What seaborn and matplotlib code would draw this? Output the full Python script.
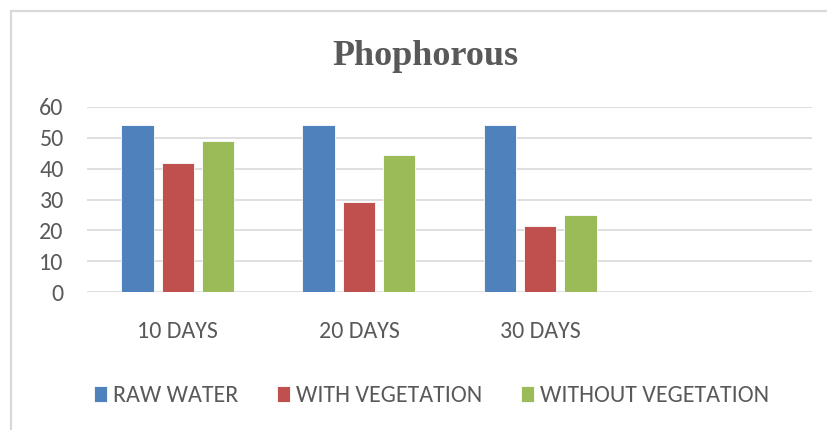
import matplotlib
matplotlib.use("Agg")
import matplotlib.pyplot as plt
from matplotlib.lines import Line2D
from matplotlib import font_manager
import seaborn as sns
import pandas as pd

categories = ["10 DAYS", "20 DAYS", "30 DAYS"]
series_names = ["RAW WATER", "WITH VEGETATION", "WITHOUT VEGETATION"]
raw_water = [54, 54, 54]
with_vegetation = [41.7, 29.2, 21.3]
without_vegetation = [49, 44.5, 24.9]
y_ticks = [0, 10, 20, 30, 40, 50, 60]
title = "Phophorous"

colors = ["#4F81BD", "#C0504D", "#9BBB59"]
text_color = "#595959"
grid_color = "#D9D9D9"

rows = []
for name, vals in zip(series_names, [raw_water, with_vegetation, without_vegetation]):
    for c, v in zip(categories, vals):
        rows.append({"Day": c, "Series": name, "Value": v})
df = pd.DataFrame(rows)

installed = {f.name for f in font_manager.fontManager.ttflist}
if "Carlito" in installed:
    fam, fsize = "Carlito", 17.3
else:
    fam, fsize = "Roboto Condensed", 18

sns.set_theme(style="white")
plt.rcParams["font.family"] = [fam, "DejaVu Sans"]

W, H = 828, 430
fig = plt.figure(figsize=(W / 100, H / 100), dpi=100)
ax = fig.add_axes([87.3 / W, 1 - 292.3 / H, (811.7 - 87.3) / W, (292.3 - 106.7) / H])

sns.barplot(data=df, x="Day", y="Value", hue="Series", order=categories,
            hue_order=series_names, palette=colors, width=0.668, gap=0.2,
            edgecolor="white", linewidth=0.6, saturation=1, ax=ax, legend=True)

ax.set_xlim(-0.5, 3.5)
ax.set_ylim(0, 60)
ax.set_yticks(y_ticks)
ax.set_xlabel("")
ax.set_ylabel("")
for s in ax.spines.values():
    s.set_visible(False)
ax.yaxis.grid(True, color=grid_color, linewidth=1.2)
ax.set_axisbelow(True)
ax.tick_params(axis="both", length=0, labelsize=fsize, labelcolor=text_color)
ax.tick_params(axis="y", pad=17)
ax.tick_params(axis="x", pad=21)

handles, labels = ax.get_legend_handles_labels()
ax.get_legend().remove()
fig.legend(handles, labels, loc="center", bbox_to_anchor=(431.5 / W, 1 - 396 / H),
           ncol=3, frameon=False, fontsize=fsize, labelcolor=text_color,
           handlelength=0.55, handleheight=0.65, handletextpad=0.25,
           columnspacing=1.6)

fig.text(425.5 / W, 1 - 65 / H, title, ha="center", va="baseline",
         fontsize=26, fontweight="bold", color=text_color,
         family=["Liberation Serif", "DejaVu Serif"])

fig.add_artist(Line2D([11 / W, 11 / W], [0, 1 - 11 / H], color=grid_color, linewidth=1.6,
                      transform=fig.transFigure))
fig.add_artist(Line2D([11 / W, 1], [1 - 11 / H, 1 - 11 / H], color=grid_color, linewidth=1.6,
                      transform=fig.transFigure))

fig.savefig("out.png", dpi=100, facecolor="white")
